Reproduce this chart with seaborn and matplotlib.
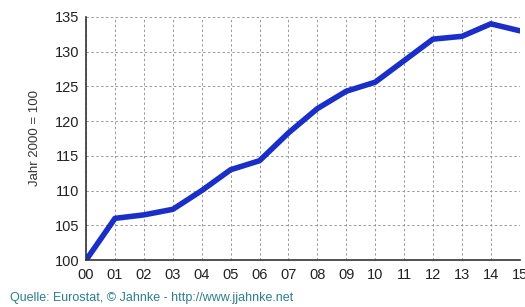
import matplotlib
matplotlib.use('Agg')
import matplotlib.pyplot as plt
import seaborn as sns
import pandas as pd

# index values, year 2000 = 100
years = ['00', '01', '02', '03', '04', '05', '06', '07', '08', '09', '10', '11', '12', '13', '14', '15']
index_values = [100, 106.0, 106.5, 107.3, 110.0, 113.0, 114.3, 118.3, 121.8, 124.3, 125.6, 128.7, 131.8, 132.2, 134.0, 133.0]

sns.set_style('white')
plt.rcParams['font.family'] = ['Liberation Sans', 'DejaVu Sans']

df = pd.DataFrame({'pos': range(len(years)), 'val': index_values})

fig = plt.figure(figsize=(5.25, 3.07), dpi=100)
ax = fig.add_axes([0.164, 0.153, 0.826, 0.792])

sns.lineplot(data=df, x='pos', y='val', ax=ax, color='#1a2fc8', linewidth=4, solid_capstyle='round')

ax.set_xlim(0, len(years) - 1)
ax.set_ylim(100, 135)
ax.set_xticks(range(len(years)))
ax.set_xticklabels(years)
ax.set_yticks(range(100, 136, 5))
ax.tick_params(axis='both', labelsize=10.5, length=0, colors='#222222')
ax.tick_params(axis='x', pad=6)
ax.tick_params(axis='y', pad=5)
ax.grid(True, linestyle=(0, (2.5, 2.5)), color='#999999', linewidth=0.7)
ax.set_xlabel('')
ax.set_ylabel('Jahr 2000 = 100', fontsize=9.5, color='#333333', labelpad=10)

for side in ['top', 'right']:
    ax.spines[side].set_visible(False)
for side in ['left', 'bottom']:
    ax.spines[side].set_color('#333333')
    ax.spines[side].set_linewidth(1.2)

fig.text(0.02, 0.03, 'Quelle: Eurostat, © Jahnke - http://www.jjahnke.net', fontsize=9, color='#2a7f8f', va='center')

fig.savefig('out.png', dpi=100)
